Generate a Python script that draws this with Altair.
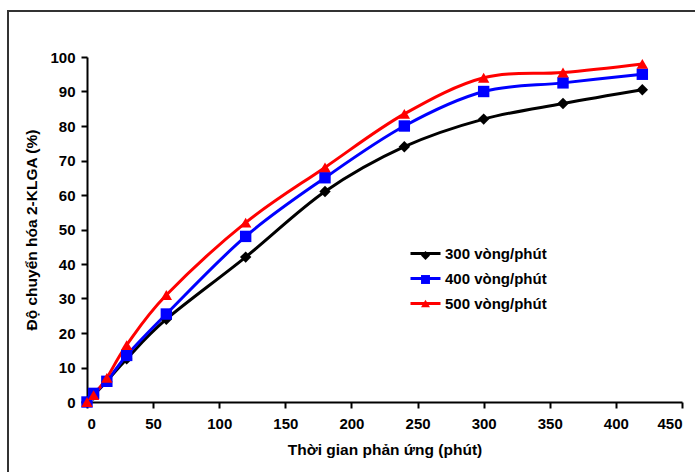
import altair as alt
import pandas as pd

times = [0, 5, 15, 30, 60, 120, 180, 240, 300, 360, 420]
s300 = [0, 2.0, 6.0, 12.5, 24.0, 42.0, 61.0, 74.0, 82.0, 86.5, 90.5]
s400 = [0, 2.5, 6.0, 13.5, 25.5, 48.0, 65.0, 80.0, 90.0, 92.5, 95.0]
s500 = [0, 2.0, 7.0, 16.5, 31.0, 52.0, 68.0, 83.5, 94.0, 95.5, 98.0]
series = ["300 vòng/phút", "400 vòng/phút", "500 vòng/phút"]
colors = ["#000000", "#0000FF", "#FF0000"]
shapes = ["diamond", "square", "triangle-up"]
# marker-legend keys (distinct domain so Vega-Lite keeps it as a separate legend)
mkeys = [s + " " for s in series]

rows = []
for name, mk, vals in zip(series, mkeys, [s300, s400, s500]):
    for t, v in zip(times, vals):
        rows.append({"t": t, "v": v, "s": name, "m": mk})
df = pd.DataFrame(rows)

FONT = "Liberation Sans"
LFS = 15

x = alt.X("t:Q", title="Thời gian phản ứng (phút)",
          scale=alt.Scale(domain=[0, 450], nice=False),
          axis=alt.Axis(values=list(range(0, 451, 50)), grid=False))
y = alt.Y("v:Q", title="Độ chuyển hóa 2-KLGA (%)",
          scale=alt.Scale(domain=[0, 100], nice=False),
          axis=alt.Axis(values=list(range(0, 101, 10)), grid=False))

lines = alt.Chart(df).mark_line(strokeWidth=3, interpolate="cardinal").encode(
    x=x, y=y,
    color=alt.Color("s:N", scale=alt.Scale(domain=series, range=colors),
                    legend=alt.Legend(title=None, orient="none", legendX=322, legendY=180,
                                      symbolType="stroke", symbolSize=900,
                                      symbolStrokeWidth=3, labelFontSize=LFS,
                                      labelFont=FONT, labelFontWeight="bold",
                                      labelOffset=3, rowPadding=0)),
)

pleg = dict(title=None, orient="none", legendX=331, legendY=191,
            symbolSize=80, symbolStrokeWidth=0,
            labelFontSize=LFS, labelExpr="''",
            labelFont=FONT, labelFontWeight="bold",
            labelOffset=3, rowPadding=8)

points = alt.Chart(df).mark_point(filled=True, opacity=1, size=130).encode(
    x=x, y=y,
    fill=alt.Fill("m:N", scale=alt.Scale(domain=mkeys, range=colors),
                  legend=alt.Legend(**pleg)),
    shape=alt.Shape("m:N", scale=alt.Scale(domain=mkeys, range=shapes),
                    legend=alt.Legend(**pleg)),
)

frame = alt.Chart(pd.DataFrame({"a": [0]})).mark_rect(
    fill=None, stroke="#333333", strokeWidth=2
).encode(x=alt.value(-79), x2=alt.value(640), y=alt.value(-46), y2=alt.value(440))

chart = alt.layer(frame, lines, points).properties(
    width=595, height=345,
    autosize=alt.AutoSizeParams(type="none"),
    padding={"left": 87, "top": 57, "right": 13, "bottom": 70},
).configure_view(stroke=None).configure_axis(
    domainColor="#000000", domainWidth=2, tickColor="#000000", tickWidth=2,
    tickSize=6, labelFont=FONT, labelFontWeight="bold", labelFontSize=15,
    labelColor="#000000", titleFont=FONT, titleFontWeight="bold",
    titleFontSize=15.5, titleColor="#000000",
).configure_axisX(labelPadding=8, titlePadding=11).configure_axisY(
    labelPadding=6, titlePadding=10)

chart.save("out.html", embed_options={"renderer": "svg", "actions": False})
